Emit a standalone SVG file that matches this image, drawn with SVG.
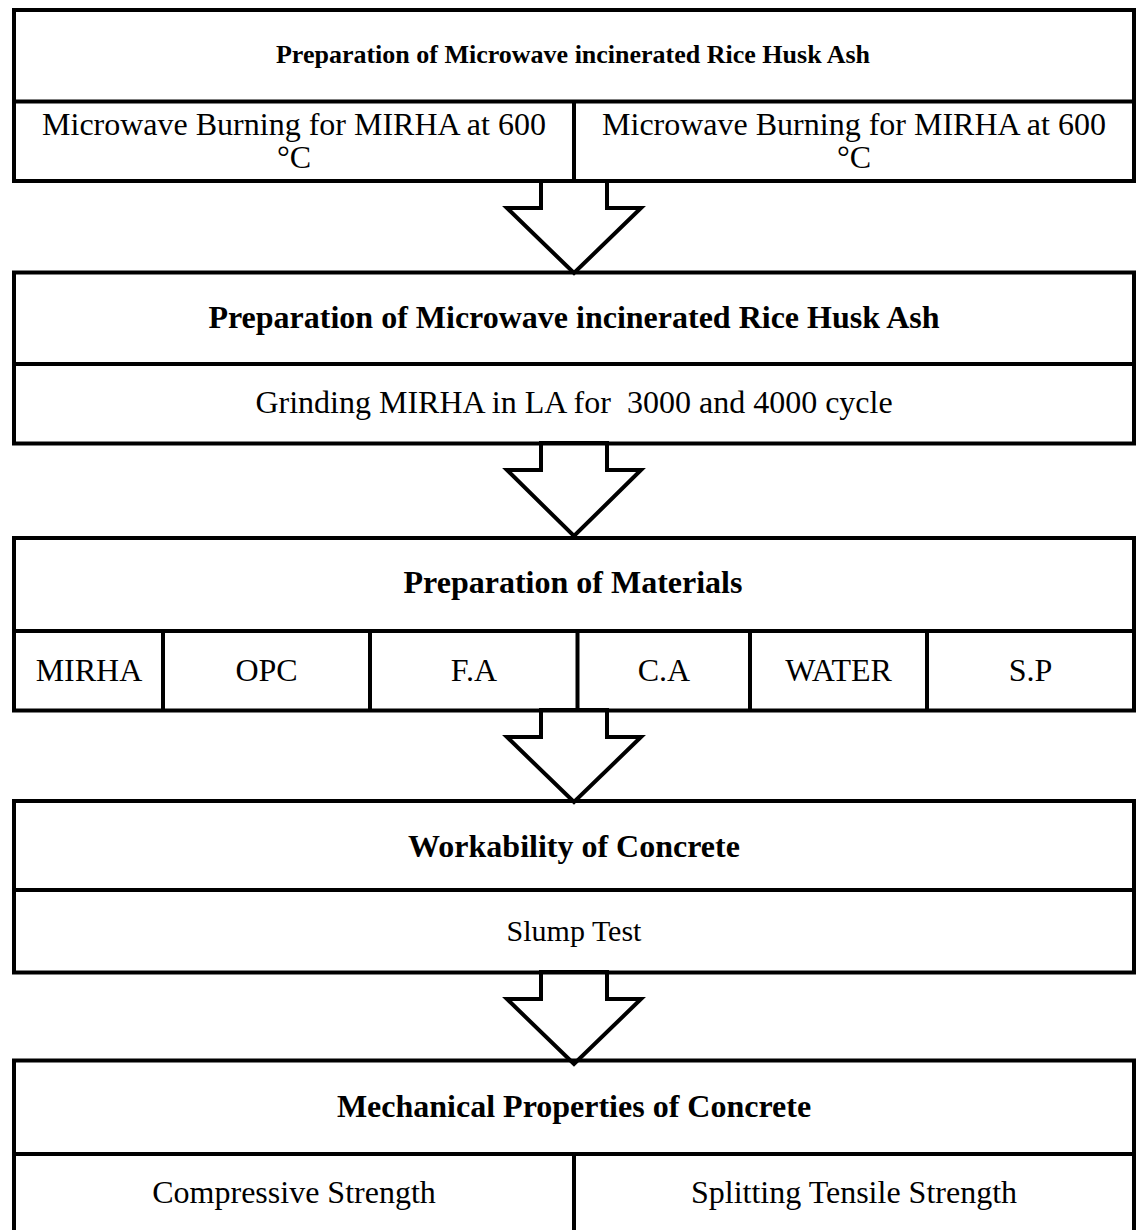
<svg xmlns="http://www.w3.org/2000/svg" width="1142" height="1230" viewBox="0 0 1142 1230">
<style>
.box{fill:#fff;stroke:#000;stroke-width:4;stroke-linejoin:miter}
.div{stroke:#000;stroke-width:4;fill:none}
.arr{fill:#fff;stroke:#000;stroke-width:4;stroke-linejoin:miter}
.h{font-family:"Liberation Serif","Times New Roman",serif;font-weight:bold;font-size:32px;fill:#000;text-anchor:middle}
.t{font-family:"Liberation Serif","Times New Roman",serif;font-size:32px;fill:#000;text-anchor:middle}
</style>
<rect width="1142" height="1230" fill="#fff"/>
<g id="connectors">
<polygon class="arr" points="541,181 541,208 507,208 574,273 641,208 607,208 607,181"/>
<polygon class="arr" points="541,443 541,470 507,470 574,536 641,470 607,470 607,443"/>
<polygon class="arr" points="541,710 541,737 507,737 574,802 641,737 607,737 607,710"/>
<polygon class="arr" points="541,972 541,999 507,999 574,1064 641,999 607,999 607,972"/>
</g>
<g id="node1">
<rect class="box" x="14" y="10" width="1120" height="171" fill="none" style="fill:none"/>
<line class="div" x1="14" y1="101.5" x2="1134" y2="101.5"/>
<line class="div" x1="574" y1="101.5" x2="574" y2="181"/>
<text class="h" x="573" y="63" style="font-size:26px">Preparation of Microwave incinerated Rice Husk Ash</text>
<text class="t" x="294" y="135">Microwave Burning for MIRHA at 600</text>
<text class="t" x="294" y="167.5">°C</text>
<text class="t" x="854" y="135">Microwave Burning for MIRHA at 600</text>
<text class="t" x="854" y="167.5">°C</text>
</g>
<g id="node2">
<rect class="box" x="14" y="272.5" width="1120" height="171" style="fill:none"/>
<line class="div" x1="14" y1="364" x2="1134" y2="364"/>
<text class="h" x="574" y="327.5">Preparation of Microwave incinerated Rice Husk Ash</text>
<text class="t" x="574" y="413" xml:space="preserve">Grinding MIRHA in LA for  3000 and 4000 cycle</text>
</g>
<g id="node3">
<rect class="box" x="14" y="538" width="1120" height="172.5" style="fill:none"/>
<line class="div" x1="14" y1="631" x2="1134" y2="631"/>
<line class="div" x1="163" y1="631" x2="163" y2="710.5"/>
<line class="div" x1="370" y1="631" x2="370" y2="710.5"/>
<line class="div" x1="577.5" y1="631" x2="577.5" y2="710.5"/>
<line class="div" x1="750" y1="631" x2="750" y2="710.5"/>
<line class="div" x1="927" y1="631" x2="927" y2="710.5"/>
<text class="h" x="573" y="593">Preparation of Materials</text>
<text class="t" x="89" y="680.5">MIRHA</text>
<text class="t" x="266.5" y="680.5">OPC</text>
<text class="t" x="474" y="680.5">F.A</text>
<text class="t" x="664" y="680.5">C.A</text>
<text class="t" x="838.5" y="680.5">WATER</text>
<text class="t" x="1030.5" y="680.5">S.P</text>
</g>
<g id="node4">
<rect class="box" x="14" y="801" width="1120" height="171.5" style="fill:none"/>
<line class="div" x1="14" y1="890" x2="1134" y2="890"/>
<text class="h" x="574" y="857">Workability of Concrete</text>
<text class="t" x="574" y="940.5" style="font-size:30px">Slump Test</text>
</g>
<g id="node5">
<rect class="box" x="14" y="1060.5" width="1120" height="200" style="fill:none"/>
<line class="div" x1="14" y1="1154" x2="1134" y2="1154"/>
<line class="div" x1="574" y1="1154" x2="574" y2="1240"/>
<text class="h" x="574" y="1116.5">Mechanical Properties of Concrete</text>
<text class="t" x="294" y="1203">Compressive Strength</text>
<text class="t" x="854" y="1203">Splitting Tensile Strength</text>
</g>
</svg>
